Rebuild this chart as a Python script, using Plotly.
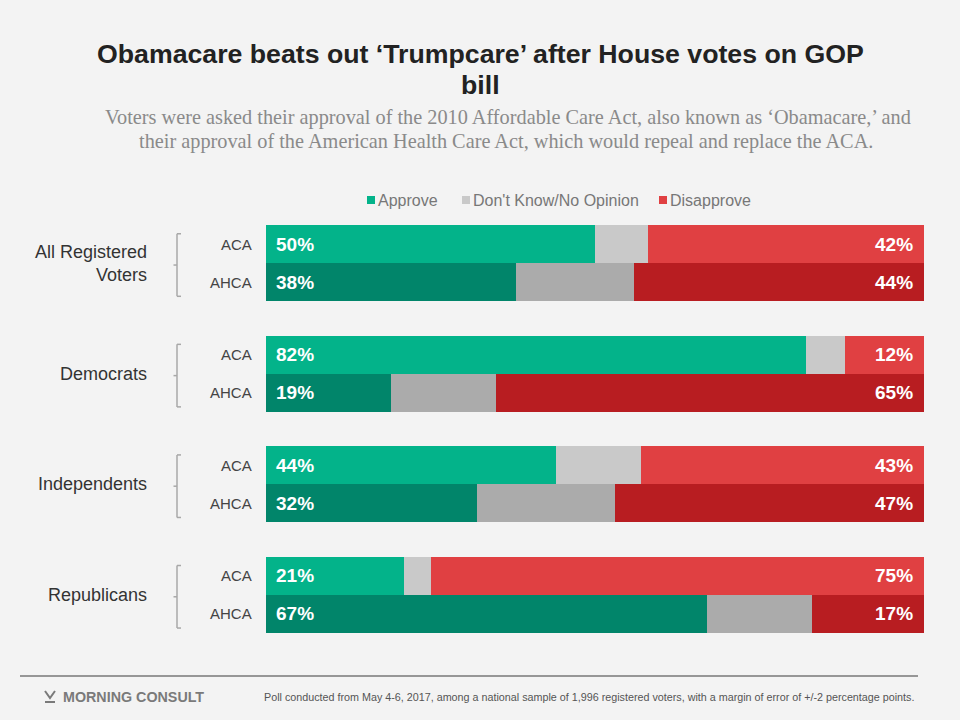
import plotly.graph_objects as go

# ---------------- data ----------------
groups = ["All Registered<br>Voters", "Democrats", "Independents", "Republicans"]
measures = ["ACA", "AHCA"]
approve = [50, 38, 82, 19, 44, 32, 21, 67]
dont_know = [8, 18, 6, 16, 13, 21, 4, 16]
disapprove = [42, 44, 12, 65, 43, 47, 75, 17]
series_names = ["Approve", "Don't Know/No Opinion", "Disapprove"]

title_lines = ["Obamacare beats out \u2018Trumpcare\u2019 after House votes on GOP", "bill"]
subtitle_lines = [
    "Voters were asked their approval of the 2010 Affordable Care Act, also known as \u2018Obamacare,\u2019 and",
    "their approval of the American Health Care Act, which would repeal and replace the ACA.",
]
footer_note = ("Poll conducted from May 4-6, 2017, among a national sample of 1,996 registered voters, "
               "with a margin of error of +/-2 percentage points.")

# ---------------- styling ----------------
W, H = 960, 720
L, R, T, B = 266, 924, 225, 633
GROUP_STEP = 2.9
colors = {
    "Approve": ["#03B38A", "#01856A"],
    "Don't Know/No Opinion": ["#C9C9C9", "#ABABAB"],
    "Disapprove": ["#E04042", "#B81D21"],
}
BG = "#F3F3F3"


def px2x(px):
    return (px - L) / (R - L)


def px2y(py):
    return (B - py) / (B - T)


# positions for each row
ypos, row_labels, row_kind = [], [], []
for g in range(len(groups)):
    for r, m in enumerate(measures):
        ypos.append(g * GROUP_STEP + r)
        row_labels.append(m)
        row_kind.append(r)

fig = go.Figure()
for name, vals in zip(series_names, [approve, dont_know, disapprove]):
    fig.add_trace(go.Bar(
        name=name, x=vals, y=ypos, orientation="h", width=1,
        marker=dict(color=[colors[name][k] for k in row_kind], line=dict(width=0)),
        showlegend=False, hoverinfo="x+name",
    ))

ann = []
shapes = []
FONT = "Liberation Sans, Arial, sans-serif"

# value labels and row labels
for y, a, d, lab in zip(ypos, approve, disapprove, row_labels):
    ann.append(dict(x=0, y=y, xref="x", yref="y", text=f"<b>{a}%</b>", showarrow=False,
                    xanchor="left", xshift=8, font=dict(family=FONT, size=19, color="white")))
    ann.append(dict(x=100, y=y, xref="x", yref="y", text=f"<b>{d}%</b>", showarrow=False,
                    xanchor="right", xshift=-9, font=dict(family=FONT, size=19, color="white")))
    ann.append(dict(x=0, y=y, xref="x", yref="y", text=lab, showarrow=False,
                    xanchor="right", xshift=-12, font=dict(family=FONT, size=15, color="#444444")))

# group labels and brackets
bx = px2x(177)
for g, gname in enumerate(groups):
    c = g * GROUP_STEP + 0.5
    ann.append(dict(x=0, y=c, xref="x", yref="y", text=gname, showarrow=False, align="right",
                    xanchor="right", xshift=-117, font=dict(family=FONT, size=18, color="#333333")))
    top, bot = c - 0.77, c + 0.87
    lc = dict(color="#A8A8A8", width=1.5)
    shapes += [
        dict(type="line", xref="paper", yref="y", x0=bx, x1=bx, y0=top, y1=bot, line=lc),
        dict(type="line", xref="paper", yref="y", x0=bx, x1=px2x(181), y0=top, y1=top, line=lc),
        dict(type="line", xref="paper", yref="y", x0=bx, x1=px2x(181), y0=bot, y1=bot, line=lc),
        dict(type="line", xref="paper", yref="y", x0=px2x(173.5), x1=bx, y0=c + 0.05, y1=c + 0.05, line=lc),
    ]

# title & subtitle
for line, cy in zip(title_lines, [54, 85]):
    ann.append(dict(x=px2x(480), y=px2y(cy), xref="paper", yref="paper", text=f"<b>{line}</b>",
                    showarrow=False, xanchor="center", yanchor="middle",
                    font=dict(family=FONT, size=26.7, color="#222222")))
SERIF = "Liberation Serif, Times New Roman, serif"
for line, cy, cx in zip(subtitle_lines, [117, 141], [508, 506]):
    ann.append(dict(x=px2x(cx), y=px2y(cy), xref="paper", yref="paper", text=line, showarrow=False,
                    xanchor="center", yanchor="middle", font=dict(family=SERIF, size=20.3, color="#8A8A8A")))

# legend (manual)
leg_x = [367, 462, 659]
for name, lx in zip(series_names, leg_x):
    shapes.append(dict(type="rect", xref="paper", yref="paper", x0=px2x(lx), x1=px2x(lx + 8),
                       y0=px2y(204), y1=px2y(196), fillcolor=colors[name][0], line=dict(width=0)))
    ann.append(dict(x=px2x(lx + 9), y=px2y(200), xref="paper", yref="paper", text=name, showarrow=False,
                    xanchor="left", yanchor="middle", font=dict(family=FONT, size=16, color="#777777")))

# footer
shapes.append(dict(type="line", xref="paper", yref="paper", x0=px2x(20), x1=px2x(918),
                   y0=px2y(676), y1=px2y(676), line=dict(color="#777777", width=1.5)))
ann.append(dict(x=px2x(61), y=px2y(697), xref="paper", yref="paper", text="<b>MORNING CONSULT</b>",
                showarrow=False, xanchor="left", yanchor="middle",
                font=dict(family=FONT, size=14.3, color="#7A7A7A")))
# logo mark
shapes.append(dict(type="path", xref="paper", yref="paper",
                   path=(f"M {px2x(45)},{px2y(691)} L {px2x(50)},{px2y(698)} L {px2x(55)},{px2y(691)}"),
                   line=dict(color="#7A7A7A", width=2)))
shapes.append(dict(type="line", xref="paper", yref="paper", x0=px2x(45), x1=px2x(55),
                   y0=px2y(702), y1=px2y(702), line=dict(color="#7A7A7A", width=2)))
ann.append(dict(x=px2x(262), y=px2y(697), xref="paper", yref="paper", text=footer_note, showarrow=False,
                xanchor="left", yanchor="middle", font=dict(family=FONT, size=10.75, color="#555555")))

fig.update_layout(
    width=W, height=H, barmode="stack",
    margin=dict(l=L, r=W - R, t=T, b=H - B, pad=0),
    paper_bgcolor=BG, plot_bgcolor=BG,
    xaxis=dict(range=[0, 100], visible=False, fixedrange=True),
    yaxis=dict(range=[3 * GROUP_STEP + 1.5, -0.5], visible=False, fixedrange=True),
    annotations=ann, shapes=shapes, showlegend=False,
)

fig.write_html("out.html", config={"displayModeBar": False},
               post_script="document.body.style.margin='0';")
